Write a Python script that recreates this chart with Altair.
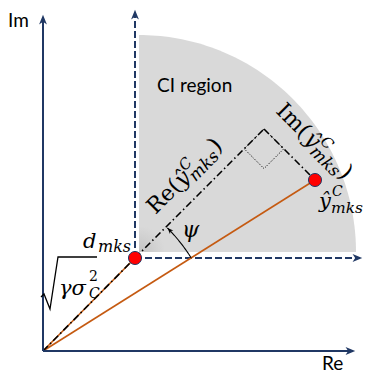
import math
import numpy as np
import pandas as pd
import altair as alt

# ---------------- diagram values (origin O at (0,0), y up, 1 unit = 1 px) ----------------
O = (0.0, 0.0)
D_MKS = (92.0, 93.0)          # d_mks (red point, corner of CI region)
Y_HAT = (272.0, 171.0)        # \hat y^C_mks (red point)
CI_CENTER = (96.0, 99.0)
CI_RADIUS = 217.0
IM_TIP = 336.0
RE_TIP = 312.0
DASH_V_TIP = 341.0
DASH_H_TIP = 319.0
PSI_RADIUS = 175.0
SQUARE_SIDE = 28.0

X_DOMAIN = [-35, 321]
Y_DOMAIN = [-24, 343]

NAVY = "#203864"
ORANGE = "#c55a11"
GREY = "#d9d9d9"
RED = "#ff0000"

xs = alt.Scale(domain=X_DOMAIN, nice=False, zero=False)
ys = alt.Scale(domain=Y_DOMAIN, nice=False, zero=False)


def XY():
    return dict(x=alt.X("x:Q", scale=xs, axis=None), y=alt.Y("y:Q", scale=ys, axis=None))


# foot of perpendicular from Y_HAT onto the Re direction through D_MKS
u_re = np.array([1, 1]) / math.sqrt(2)
d = np.array(D_MKS)
yh = np.array(Y_HAT)
t = float(np.dot(yh - d, u_re))
F = d + t * u_re
w_im = (yh - F) / np.linalg.norm(yh - F)

# ---------------- layers ----------------
th = np.linspace(math.pi / 2, 0, 80)
ci_df = pd.DataFrame({
    "x": CI_CENTER[0] + CI_RADIUS * np.cos(th),
    "y": CI_CENTER[1] + CI_RADIUS * np.sin(th),
    "y2": CI_CENTER[1],
})
ci = alt.Chart(ci_df).mark_area(
    color=alt.Gradient(
        gradient="radial",
        stops=[alt.GradientStop(color="#c4c4c4", offset=0),
               alt.GradientStop(color=GREY, offset=0.12),
               alt.GradientStop(color=GREY, offset=1)],
        x1=0, y1=1, x2=0, y2=1, r1=0, r2=1),
    opacity=1,
).encode(**XY(), y2="y2:Q")


def segs(rows):
    return pd.DataFrame(rows, columns=["x", "y", "x2", "y2"])


dashed = alt.Chart(segs([
    [D_MKS[0], D_MKS[1], D_MKS[0], DASH_V_TIP - 5],
    [D_MKS[0], D_MKS[1], DASH_H_TIP - 5, D_MKS[1]],
])).mark_rule(color=NAVY, strokeWidth=2, strokeDash=[7, 3]).encode(**XY(), x2="x2:Q", y2="y2:Q")

axes = alt.Chart(segs([
    [0, 0, 0, IM_TIP - 5],
    [0, 0, RE_TIP - 5, 0],
])).mark_rule(color=NAVY, strokeWidth=2).encode(**XY(), x2="x2:Q", y2="y2:Q")

orange = alt.Chart(segs([
    [O[0], O[1], D_MKS[0], D_MKS[1]],
    [O[0], O[1], Y_HAT[0], Y_HAT[1]],
])).mark_rule(color=ORANGE, strokeWidth=1.6).encode(**XY(), x2="x2:Q", y2="y2:Q")

dashdot = alt.Chart(segs([
    [O[0], O[1], D_MKS[0], D_MKS[1]],
    [D_MKS[0], D_MKS[1], F[0], F[1]],
    [F[0], F[1], Y_HAT[0], Y_HAT[1]],
])).mark_rule(color="black", strokeWidth=1.6, strokeDash=[7, 3, 1.5, 3]).encode(**XY(), x2="x2:Q", y2="y2:Q")

sq = [F, F - SQUARE_SIDE * u_re, F - SQUARE_SIDE * u_re + SQUARE_SIDE * w_im, F + SQUARE_SIDE * w_im, F]
sq_df = pd.DataFrame({"x": [p[0] for p in sq], "y": [p[1] for p in sq], "i": range(len(sq))})
square = alt.Chart(sq_df).mark_line(color="black", strokeWidth=1, strokeDash=[1, 1.5]).encode(**XY(), order="i:Q")

a0 = math.atan2(Y_HAT[1], Y_HAT[0])
a1 = math.atan2(D_MKS[1], D_MKS[0])
ang = np.linspace(a0, a1 - 0.01, 40)
arc_df = pd.DataFrame({"x": PSI_RADIUS * np.cos(ang), "y": PSI_RADIUS * np.sin(ang), "i": range(len(ang))})
arc = alt.Chart(arc_df).mark_line(color="black", strokeWidth=1.1).encode(**XY(), order="i:Q")

ARROW = "M0,-1L0.75,0.85L0,0.35L-0.75,0.85Z"
arr_df = pd.DataFrame({
    "x": [0, RE_TIP - 5, D_MKS[0], DASH_H_TIP - 5],
    "y": [IM_TIP - 5, 0, DASH_V_TIP - 5, D_MKS[1]],
    "a": [0, 90, 0, 90],
})
arrows = alt.Chart(arr_df).mark_point(shape=ARROW, filled=True, color=NAVY, opacity=1, size=110).encode(
    **XY(), angle=alt.Angle("a:Q", scale=None))

ae = a1 - 0.03
arc_arrow_df = pd.DataFrame({"x": [PSI_RADIUS * math.cos(ae)], "y": [PSI_RADIUS * math.sin(ae)], "a": [315]})
arc_arrow = alt.Chart(arc_arrow_df).mark_point(shape=ARROW, filled=True, color="black", opacity=1, size=40).encode(
    **XY(), angle=alt.Angle("a:Q", scale=None))

pts_df = pd.DataFrame({"x": [D_MKS[0], Y_HAT[0]], "y": [D_MKS[1], Y_HAT[1]]})
points = alt.Chart(pts_df).mark_point(filled=True, fill=RED, stroke=NAVY, strokeWidth=1, opacity=1, size=170).encode(**XY())

rad_df = pd.DataFrame({"x": [-2, 1, 7, 15, 54], "y": [54, 57, 42, 94, 94], "i": range(5)})
radical = alt.Chart(rad_df).mark_line(color="black", strokeWidth=1.3).encode(**XY(), order="i:Q")

# ---------------- text ----------------
W = {"R": .77, "e": .59, "(": .39, ")": .39, "I": .47, "m": .95, "ŷ": .59, "C": .72, "k": .64, "s": .51}


def width(txt, size):
    return sum(W.get(c, .6) for c in txt) * size


def rot_label(start, angle, pieces):
    a = math.radians(angle)
    u = np.array([math.cos(a), -math.sin(a)])
    v = np.array([-u[1], u[0]])
    pos = np.array(start, dtype=float)
    rows = []
    for txt, size, style, dv, adv in pieces:
        p = pos + dv * v
        rows.append(dict(x=p[0], y=p[1], text=txt, size=size, angle=angle % 360, style=style))
        if adv:
            pos = pos + width(txt, size) * u
    return rows


def yhat_pieces(head):
    return [
        (head, 22, "up", 0, True),
        ("ŷ", 22, "it", 0, True),
        ("C", 15, "it", 10, False),
        ("mks", 17, "it", -5, True),
        (")", 23, "up", 0, True),
    ]


rows = []
rows += rot_label((112.5, 136.0), -45, yhat_pieces("Re("))
rows += rot_label((232.0, 239.0), 45, yhat_pieces("Im("))
rows += [
    dict(x=40, y=103, text="d", size=21, angle=0, style="it"),
    dict(x=55, y=99, text="mks", size=16, angle=0, style="it"),
    dict(x=16, y=56, text="γσ", size=21, angle=0, style="it"),
    dict(x=46, y=70, text="2", size=14, angle=0, style="up"),
    dict(x=46, y=53, text="C", size=14, angle=0, style="it"),
    dict(x=276, y=143, text="ŷ", size=21, angle=0, style="it"),
    dict(x=289, y=155, text="C", size=14, angle=0, style="it"),
    dict(x=288, y=138, text="mks", size=15.5, angle=0, style="it"),
    dict(x=139, y=114, text="ψ", size=22, angle=0, style="it"),
]
txt_df = pd.DataFrame(rows)


def text_layer(df, **kw):
    return alt.Chart(df).mark_text(align="left", baseline="alphabetic", color="black", **kw).encode(
        **XY(), text="text:N", size=alt.Size("size:Q", scale=None), angle=alt.Angle("angle:Q", scale=None))


math_it = text_layer(txt_df[txt_df["style"] == "it"], font="DejaVu Serif", fontStyle="italic")
math_up = text_layer(txt_df[txt_df["style"] == "up"], font="DejaVu Serif")

sans_df = pd.DataFrame({
    "x": [-35, 279, 114],
    "y": [324, -19, 259],
    "text": ["Im", "Re", "CI region"],
    "size": [19, 19, 19],
    "angle": [0, 0, 0],
})
sans = text_layer(sans_df, font="Lato")

chart = alt.layer(
    ci, dashed, orange, dashdot, square, arc, arc_arrow, axes, arrows, radical, points, math_it, math_up, sans
).properties(
    width=356, height=367, padding=0, autosize=alt.AutoSizeParams(type="none")
).configure_view(stroke=None)

chart.save("out.html", embed_options={"renderer": "svg", "actions": False})
